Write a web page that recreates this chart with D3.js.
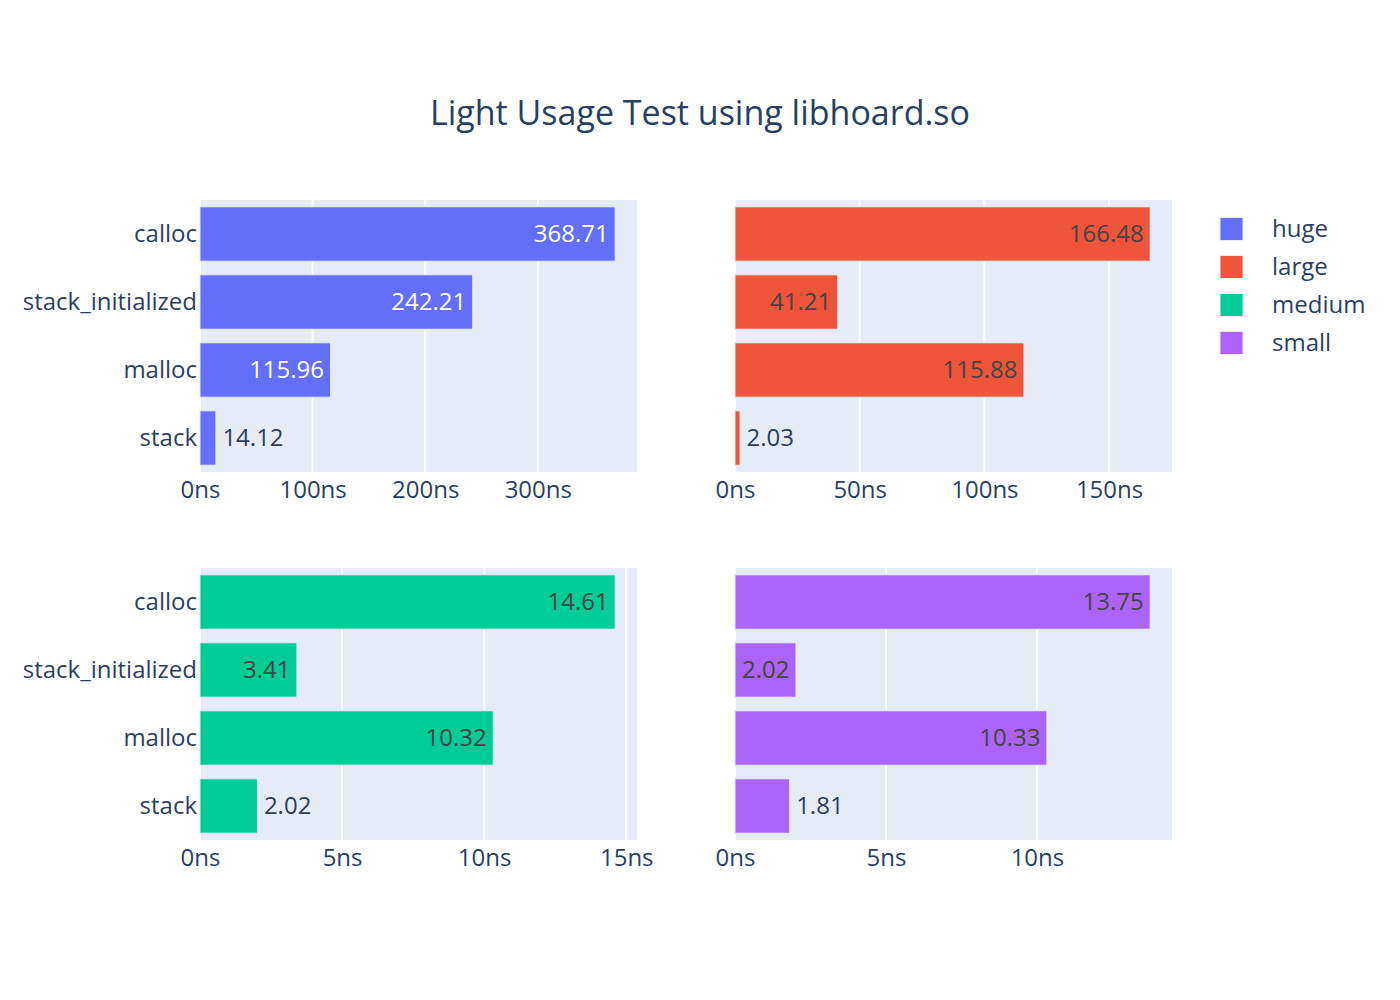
<!DOCTYPE html>
<html><head><meta charset="utf-8">
<script src="https://cdn.jsdelivr.net/npm/d3@7"></script>
<style>body{margin:0;background:#fff}text{font-family:"Open Sans",sans-serif}</style>
</head><body><svg id="c" width="1400" height="1000"></svg>
<script>
const categories = ["calloc", "stack_initialized", "malloc", "stack"];
const seriesNames = ["huge", "large", "medium", "small"];
const hugeValues = [368.71, 242.21, 115.96, 14.12];
const largeValues = [166.48, 41.21, 115.88, 2.03];
const mediumValues = [14.61, 3.41, 10.32, 2.02];
const smallValues = [13.75, 2.02, 10.33, 1.81];
const hugeTicks = [0, 100, 200, 300];
const largeTicks = [0, 50, 100, 150];
const mediumTicks = [0, 5, 10, 15];
const smallTicks = [0, 5, 10];
const colors = ["#636efa", "#EF553B", "#00cc96", "#ab63fa"];
const title = "Light Usage Test using libhoard.so";

const svg = d3.select("#c");
const W = 437, H = 272;
const panels = [
  {name: seriesNames[0], vals: hugeValues, ticks: hugeTicks, color: colors[0], x0: 200, y0: 200},
  {name: seriesNames[1], vals: largeValues, ticks: largeTicks, color: colors[1], x0: 735, y0: 200},
  {name: seriesNames[2], vals: mediumValues, ticks: mediumTicks, color: colors[2], x0: 200, y0: 568},
  {name: seriesNames[3], vals: smallValues, ticks: smallTicks, color: colors[3], x0: 735, y0: 568}
];
const fs = 24;
const textColor = "#2a3f5f";

svg.append("text").attr("x", 700).attr("y", 125).attr("text-anchor", "middle")
  .attr("font-size", 34).attr("fill", textColor).text(title);

function isLight(c) {
  const r = d3.rgb(c);
  return (r.r * 299 + r.g * 587 + r.b * 114) / 1000 >= 128;
}

panels.forEach((p, pi) => {
  const g = svg.append("g").attr("transform", `translate(${p.x0},${p.y0})`);
  const x = d3.scaleLinear().domain([0, d3.max(p.vals) / 0.95]).range([0, W]);
  const y = d3.scaleBand().domain(categories).range([0, H]).paddingInner(0.2).paddingOuter(0.1);
  g.append("rect").attr("width", W).attr("height", H).attr("fill", "#E5ECF6");
  g.selectAll("line.grid").data(p.ticks).join("line").attr("class", "grid")
    .attr("x1", d => x(d)).attr("x2", d => x(d)).attr("y1", 0).attr("y2", H)
    .attr("stroke", "#fff").attr("stroke-width", 2);
  const xa = g.append("g").attr("transform", `translate(0,${H})`)
    .call(d3.axisBottom(x).tickValues(p.ticks).tickFormat(d => d + "ns").tickSize(0).tickPadding(9));
  xa.select(".domain").remove();
  xa.selectAll("text").attr("font-size", fs).attr("fill", textColor).attr("font-family", '"Open Sans",sans-serif');
  if (pi % 2 === 0) {
    const ya = g.append("g").call(d3.axisLeft(y).tickSize(0).tickPadding(3));
    ya.select(".domain").remove();
    ya.selectAll("text").attr("font-size", fs).attr("fill", textColor).attr("font-family", '"Open Sans",sans-serif');
  }
  const data = categories.map((c, i) => ({c, v: p.vals[i]}));
  g.selectAll("rect.bar").data(data).join("rect").attr("class", "bar")
    .attr("x", x(0)).attr("y", d => y(d.c)).attr("width", d => x(d.v) - x(0)).attr("height", y.bandwidth())
    .attr("fill", p.color).attr("stroke", "#E5ECF6").attr("stroke-width", 1);
  const fitPad = 5.5, pad = 6.5;
  const labels = g.selectAll("text.lab").data(data).join("text").attr("class", "lab")
    .attr("font-size", fs).attr("y", d => y(d.c) + y.bandwidth() / 2).attr("dy", "0.35em")
    .text(d => d.v.toFixed(2));
  labels.each(function(d) {
    const tw = this.getComputedTextLength();
    const bw = x(d.v) - x(0);
    const el = d3.select(this);
    if (tw + 2 * fitPad <= bw) {
      el.attr("x", x(d.v) - pad).attr("text-anchor", "end").attr("fill", isLight(p.color) ? "#444" : "#fff");
    } else {
      el.attr("x", x(d.v) + pad).attr("text-anchor", "start").attr("fill", textColor);
    }
  });
});

const lg = svg.append("g").attr("transform", "translate(1220,229)");
seriesNames.forEach((n, i) => {
  const r = lg.append("g").attr("transform", `translate(0,${i * 38})`);
  r.append("rect").attr("x", 0).attr("y", -11.5).attr("width", 23).attr("height", 23)
    .attr("fill", colors[i]).attr("stroke", "#E5ECF6").attr("stroke-width", 1);
  r.append("text").attr("x", 52).attr("dy", "0.35em").attr("font-size", fs).attr("fill", textColor).text(n);
});
</script></body></html>
